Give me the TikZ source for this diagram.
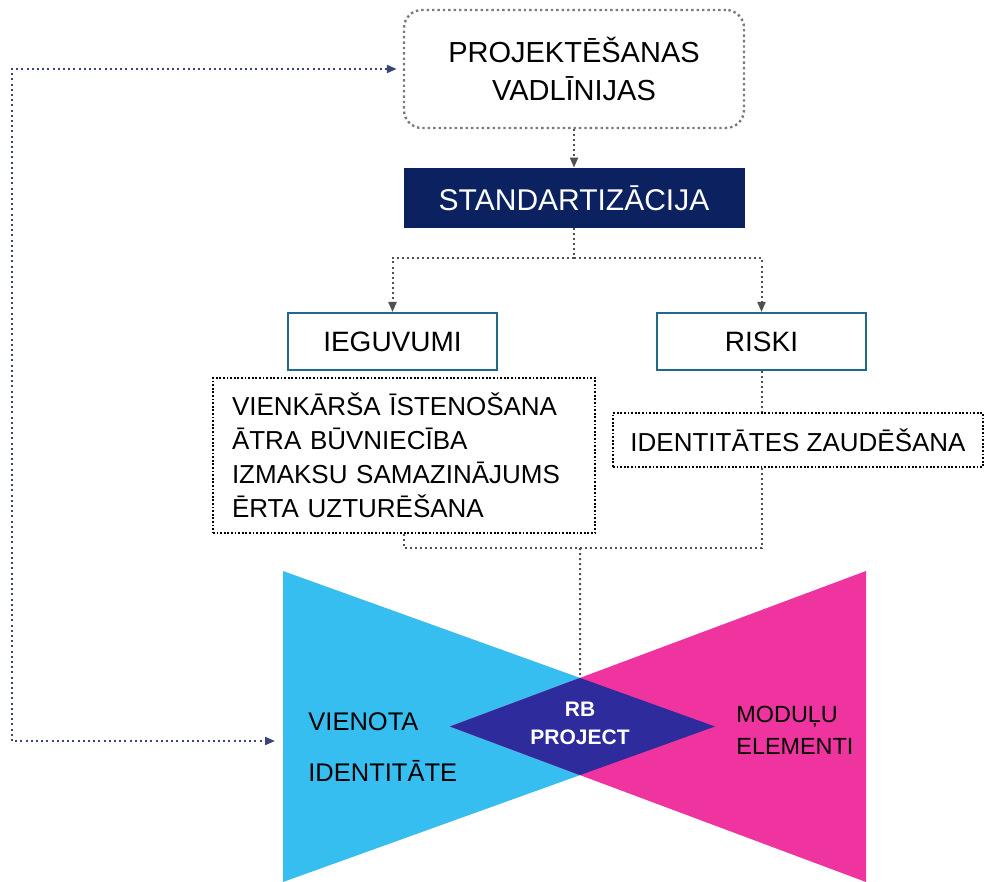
\documentclass[tikz,border=0pt]{standalone}
\usepackage{fontspec}
\setmainfont{Liberation Sans}
\usepackage{xcolor}
\usepackage{tikz}
\usetikzlibrary{calc,arrows.meta}
\definecolor{navy}{HTML}{0C2160}
\definecolor{teal}{HTML}{1E6A8A}
\definecolor{sky}{HTML}{36BEF0}
\definecolor{rose}{HTML}{F0349F}
\definecolor{mix}{HTML}{2E2B9C}
\definecolor{wire}{HTML}{505050}
\definecolor{loopc}{HTML}{3B4678}
\definecolor{frame}{HTML}{7A7A7A}
\tikzset{
  guidebox/.style={draw=frame, line width=1.2pt, dash pattern=on 1.2pt off 1.5pt, rounded corners=9pt,
    minimum width=170pt, minimum height=59pt, inner sep=0pt, align=center,
    font=\fontsize{14.5}{19}\selectfont},
  stdbox/.style={fill=navy, text=white, minimum width=170.5pt, minimum height=30pt, inner sep=0pt,
    font=\fontsize{15}{18}\selectfont},
  sidebox/.style={draw=teal, line width=1pt, minimum width=104.5pt, minimum height=28.5pt, inner sep=0pt,
    font=\fontsize{14}{17}\selectfont},
  notebox/.style={draw=black, line width=0.9pt, dash pattern=on 0.9pt off 0.9pt, inner ysep=0pt,
    font=\fontsize{13}{17}\selectfont},
  conn/.style={draw=wire, line width=1pt, dash pattern=on 1pt off 1.5pt},
  loop/.style={draw=loopc, line width=1pt, dash pattern=on 1pt off 1.6pt},
  tip/.style={-{Triangle[length=5pt,width=4pt]}},
  lab/.style={inner sep=0pt, align=left}
}
\begin{document}
\begin{tikzpicture}[x=0.5pt,y=-0.5pt]
  \useasboundingbox (0,0) rectangle (985,882);

  % bow tie
  \coordinate (lt) at (283,571);
  \coordinate (lb) at (283,882);
  \coordinate (rt) at (866,571);
  \coordinate (rb) at (866,882);
  \coordinate (lm) at (450,726.5);
  \coordinate (rm) at (715,726.5);
  \coordinate (top) at (intersection of lt--rm and rt--lm);
  \fill[sky] (lt) -- (lb) -- (rm) -- cycle;
  \fill[rose] (rt) -- (rb) -- (lm) -- cycle;
  \begin{scope}
    \clip (lt) -- (lb) -- (rm) -- cycle;
    \fill[mix] (rt) -- (rb) -- (lm) -- cycle;
  \end{scope}
  \node[lab, align=center, text=white, font=\fontsize{10.5}{14}\selectfont\bfseries] (core) at (580,723.5) {RB\\PROJECT};
  \node[lab, anchor=west, font=\fontsize{12.75}{25.5}\selectfont] (unity) at (308,747) {VIENOTA\\IDENTITĀTE};
  \node[lab, anchor=west, font=\fontsize{11.7}{16}\selectfont] (parts) at (736,730.5) {MODUĻU\\ELEMENTI};

  % boxes
  \node[guidebox] (proj) at (574,69) {PROJEKTĒŠANAS\\VADLĪNIJAS};
  \node[stdbox] (stand) at (574,198) {STANDARTIZĀCIJA};
  \node[sidebox] (gain) at (392.5,341.5) {IEGUVUMI};
  \node[sidebox] (risk) at (761.5,341.5) {RISKI};
  \node[notebox, inner xsep=9.5pt, text width=172pt, minimum height=77.5pt, align=left] (gainlist) at (404,455.5)
    {VIENKĀRŠA ĪSTENOŠANA\\ĀTRA BŪVNIECĪBA\\IZMAKSU SAMAZINĀJUMS\\ĒRTA UZTURĒŠANA};
  \node[notebox, minimum width=185pt, minimum height=27pt] (risklist) at (798,440) {IDENTITĀTES ZAUDĒŠANA};

  % connectors
  \coordinate (split) at (574,258);
  \coordinate (join) at (580,548);
  \draw[conn,tip] (proj) -- (stand);
  \draw[conn] (stand) -- (split);
  \draw[conn,tip] (split) -| (gain);
  \draw[conn,tip] (split) -| (risk);
  \draw[conn] (risk.south) -- (risk.south |- risklist.north);
  \draw[conn] (risk.south |- risklist.south) |- (join) -| (gainlist.south);
  \draw[conn] (join) -- (top);

  % feedback loop
  \coordinate (ne) at (12,69);
  \coordinate (sw) at (12,741);
  \coordinate (entry) at (275,741);
  \draw[loop,{Triangle[length=5pt,width=4pt]}-{Triangle[length=5pt,width=4pt]}, shorten <=3pt]
    (proj.west) -- (ne) -- (sw) -- (entry);
\end{tikzpicture}
\end{document}
